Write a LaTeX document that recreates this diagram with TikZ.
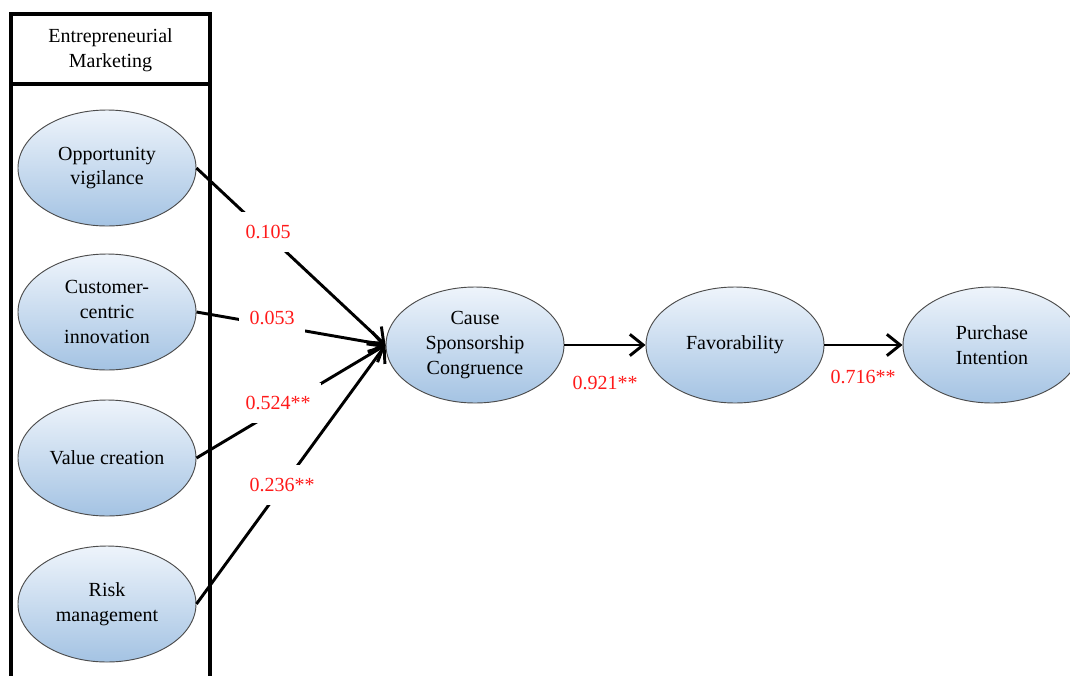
\documentclass[tikz,border=0pt]{standalone}
\usepackage{fontspec}
\setmainfont{Liberation Serif}
\usetikzlibrary{shapes.geometric,arrows.meta}
\definecolor{ellTop}{HTML}{EEF4FB}
\definecolor{ellBot}{HTML}{A4C3E3}
\definecolor{coef}{HTML}{FF1A1A}
\begin{document}
\begin{tikzpicture}[x=0.75pt,y=-0.75pt,
  construct/.style={ellipse, draw=black!70, line width=0.7pt, top color=ellTop, bottom color=ellBot,
    minimum width=133.5pt, minimum height=87pt, inner sep=0pt, align=center,
    font=\fontsize{15}{18.5}\selectfont},
  link/.style={line width=2.2pt, -{Straight Barb[length=10pt,width=16pt]}},
  coeflabel/.style={text=coef, font=\fontsize{15}{18}\selectfont, fill=white, inner xsep=8pt, inner ysep=10pt},
  coefplain/.style={text=coef, font=\fontsize{15}{18}\selectfont, inner sep=1pt},
  frame/.style={line width=2.4pt}]
\clip (0,0) rectangle (1070,675);
\fill[white] (0,0) rectangle (1070,675);
% group box
\draw[frame] (11,14) rectangle (210,700);
\draw[frame] (11,84) -- (210,84);
\node[align=center, font=\fontsize{15}{18.5}\selectfont] (hdr) at (110.5,50) {Entrepreneurial\\Marketing};
% constructs
\node[construct] (ov)  at (107,168) {Opportunity\\vigilance};
\node[construct] (cci) at (107,312) {Customer-\\centric\\innovation};
\node[construct] (vc)  at (107,458) {Value creation};
\node[construct] (rm)  at (107,604) {Risk\\management};
\node[construct] (csc) at (475,345) {Cause\\Sponsorship\\Congruence};
\node[construct] (fav) at (735,345) {Favorability};
\node[construct] (pi)  at (992,345) {Purchase\\Intention};
% paths
\draw[link] (ov.east)  -- (csc.west);
\draw[link] (cci.east) -- (csc.west);
\draw[link] (vc.east)  -- (csc.west);
\draw[link] (rm.east)  -- (csc.west);
\draw[link] (csc.east) -- (fav.west);
\draw[link] (fav.east) -- (pi.west);
% coefficients
\node[coeflabel] (c1) at (268,232) {0.105};
\node[coeflabel] (c2) at (272,318) {0.053};
\node[coeflabel] (c3) at (278,403) {0.524**};
\node[coeflabel] (c4) at (282,485) {0.236**};
\node[coefplain] (c5) at (605,383) {0.921**};
\node[coefplain] (c6) at (863,377) {0.716**};
\end{tikzpicture}
\end{document}
